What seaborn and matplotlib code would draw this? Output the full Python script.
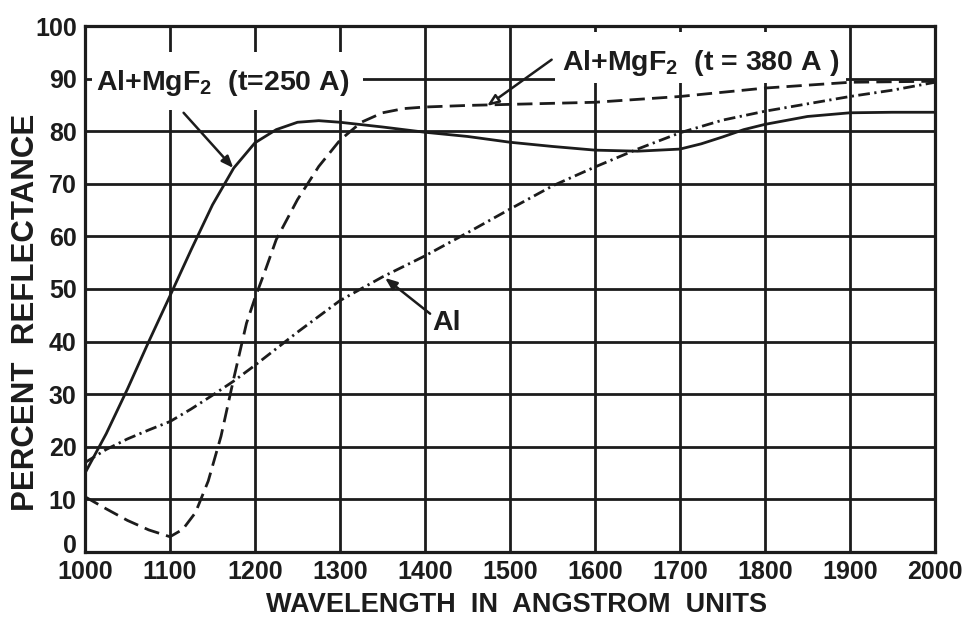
import matplotlib
matplotlib.use("Agg")
import matplotlib.pyplot as plt
import pandas as pd
import seaborn as sns
from matplotlib.patches import Rectangle
from matplotlib.transforms import ScaledTranslation

# Reflectance of evaporated aluminium films, bare and with an MgF2 overcoat
wl_t250 = [1000, 1025, 1050, 1075, 1100, 1125, 1150, 1175, 1200, 1225, 1250,
           1275, 1300, 1350, 1400, 1450, 1500, 1550, 1600, 1650, 1700, 1725,
           1750, 1775, 1800, 1850, 1900, 1950, 2000]
refl_t250 = [15, 22.5, 31, 40, 48.7, 57.5, 66, 73, 77.8, 80.3, 81.7,
             82, 81.7, 80.8, 79.8, 79.0, 77.9, 77.1, 76.4, 76.2, 76.6, 77.6,
             78.9, 80.3, 81.3, 82.8, 83.5, 83.6, 83.6]

wl_t380 = [1000, 1025, 1050, 1075, 1100, 1115, 1130, 1145, 1160, 1175, 1190,
           1200, 1212, 1225, 1250, 1275, 1300, 1325, 1350, 1375, 1400, 1450,
           1500, 1600, 1700, 1800, 1900, 2000]
refl_t380 = [10.5, 8.2, 6.0, 4.2, 2.9, 4.3, 7.5, 13.5, 22, 33, 43.5,
             48.3, 53.5, 59.4, 67, 73.3, 78.3, 81.7, 83.5, 84.3, 84.6, 84.9,
             85.1, 85.5, 86.6, 88.2, 89.3, 89.5]

wl_al = [1000, 1025, 1050, 1075, 1100, 1125, 1150, 1175, 1200, 1250, 1300,
         1350, 1400, 1450, 1500, 1550, 1600, 1650, 1700, 1750, 1800, 1850,
         1900, 1950, 2000]
refl_al = [17, 19.5, 21.5, 23.2, 24.8, 27.2, 29.8, 32.5, 35.5, 41.8, 47.8,
           52.3, 56.3, 60.7, 65.2, 69.6, 73.2, 76.6, 79.7, 82.1, 83.8, 85.2,
           86.6, 87.8, 89.3]

x_ticks = [1000, 1100, 1200, 1300, 1400, 1500, 1600, 1700, 1800, 1900, 2000]
y_ticks = [0, 10, 20, 30, 40, 50, 60, 70, 80, 90, 100]

series = [("t250", wl_t250, refl_t250),
          ("t380", wl_t380, refl_t380),
          ("al", wl_al, refl_al)]
df = pd.concat(
    [pd.DataFrame({"wavelength": w, "reflectance": r, "film": n}) for n, w, r in series],
    ignore_index=True,
)

sns.set_style("white")
plt.rcParams["font.family"] = ["Liberation Sans", "DejaVu Sans"]
plt.rcParams["font.weight"] = "bold"
plt.rcParams["mathtext.default"] = "regular"

INK = "#1c1c1c"
LW = 2.0

fig = plt.figure(figsize=(9.71, 6.2), dpi=100)
ax = fig.add_axes([85 / 971, 1 - 552 / 620, 850 / 971, 526 / 620])

sns.lineplot(
    data=df, x="wavelength", y="reflectance", style="film",
    style_order=["t250", "t380", "al"],
    dashes={"t250": "", "t380": (5.5, 2.6), "al": (4.2, 1.6, 0.8, 1.6)},
    color=INK, lw=LW, estimator=None, legend=False, ax=ax, zorder=3,
)

ax.set_xlim(1000, 2000)
ax.set_ylim(0, 100)
ax.set_xticks(x_ticks)
ax.set_yticks(y_ticks)
ax.set_xticklabels([str(v) for v in x_ticks])
ax.set_yticklabels([str(v) for v in y_ticks])
ax.set_xlabel("")
ax.set_ylabel("")
ax.set_axisbelow(True)
ax.grid(True, color=INK, lw=LW)
ax.tick_params(length=0, labelsize=18, colors=INK, pad=6)
for s in ax.spines.values():
    s.set_visible(True)
    s.set_color(INK)
    s.set_linewidth(2.3)

# lift the "0" so it clears the first wavelength label in the corner
zero = ax.get_yticklabels()[0]
zero.set_transform(zero.get_transform() + ScaledTranslation(0, 6 / 72, fig.dpi_scale_trans))

# blank panels behind the curve captions
ax.add_patch(Rectangle((1008, 84.1), 1327 - 1008, 95.1 - 84.1,
                       fc="white", ec="none", zorder=1))
ax.add_patch(Rectangle((1553, 89.2), 1895 - 1553, 98.8 - 89.2,
                       fc="white", ec="none", zorder=1))

txt = dict(color=INK, fontsize=20.5, fontweight="bold", va="baseline", ha="left", zorder=4)
ax.text(1013, 87.9, "Al+MgF$_2$  (t=250 A)", **txt)
ax.text(1561, 91.7, "Al+MgF$_2$  (t = 380 A )", **txt)
ax.text(1409, 42.2, "Al", **txt)

arrow = dict(arrowstyle="-|>,head_length=0.7,head_width=0.28", color=INK,
             lw=1.8, shrinkA=0, shrinkB=0)
ax.annotate("", xy=(1174.5, 73), xytext=(1116, 83.5), arrowprops=arrow, zorder=4)
ax.annotate("", xy=(1353, 52.1), xytext=(1406, 45.3), arrowprops=arrow, zorder=4)
open_arrow = dict(arrowstyle="-|>,head_length=0.7,head_width=0.28", fc="white",
                  ec=INK, lw=1.8, shrinkA=0, shrinkB=0)
ax.annotate("", xy=(1473, 84.8), xytext=(1549, 93.6), arrowprops=open_arrow, zorder=4)

fig.text(26 / 971, 1 - 312 / 620, "PERCENT  REFLECTANCE", rotation=90,
         ha="center", va="center", fontsize=22.5, fontweight="bold", color=INK)
fig.text(516 / 971, 1 - 605 / 620, "WAVELENGTH  IN  ANGSTROM  UNITS",
         ha="center", va="center", fontsize=19.5, fontweight="bold", color=INK)

fig.savefig("out.png", dpi=100, facecolor="white")
